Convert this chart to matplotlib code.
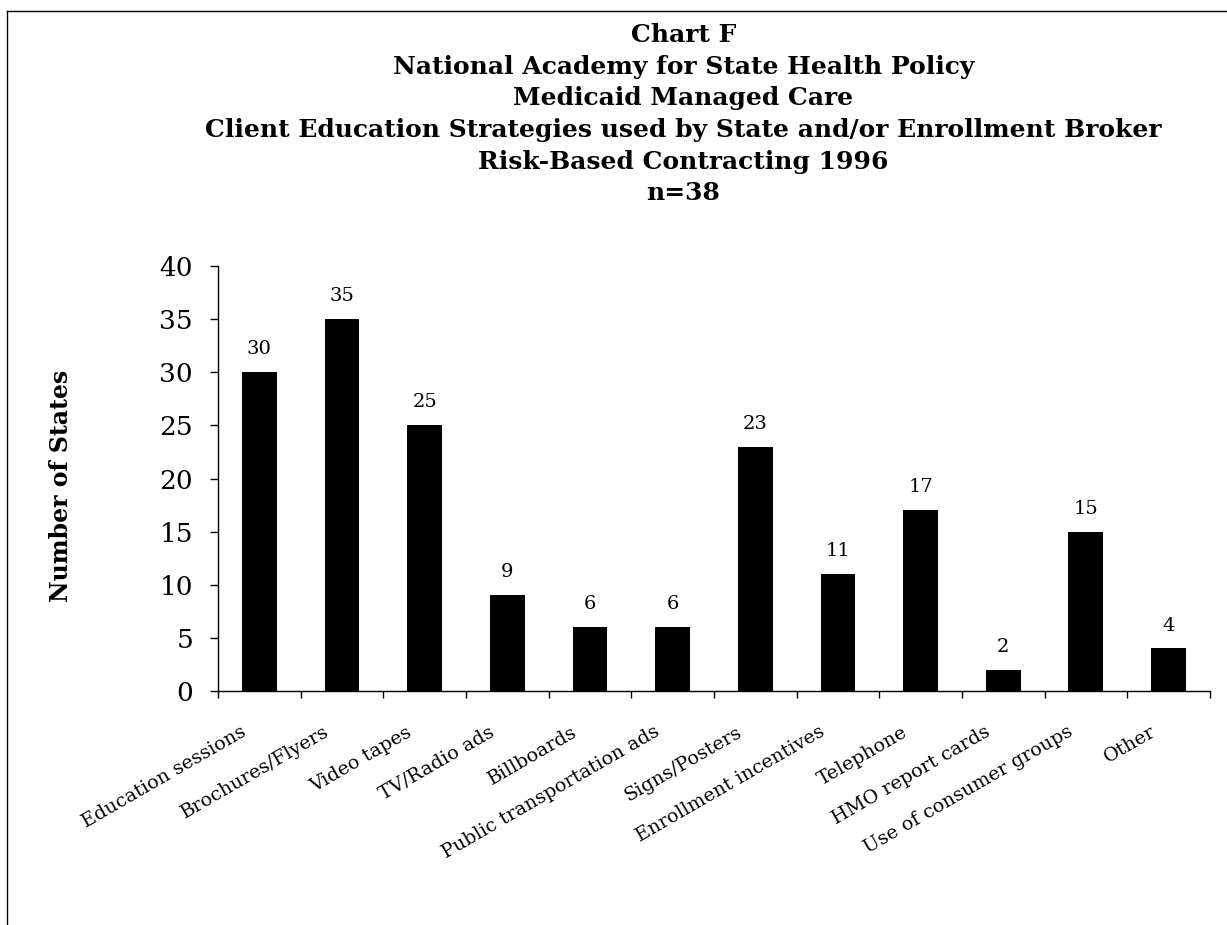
import numpy as np
import matplotlib.pyplot as plt
from matplotlib.lines import Line2D
from matplotlib.transforms import ScaledTranslation

# стратегии и число штатов
strategies = ["Education sessions", "Brochures/Flyers", "Video tapes", "TV/Radio ads",
              "Billboards", "Public transportation ads", "Signs/Posters",
              "Enrollment incentives", "Telephone", "HMO report cards",
              "Use of consumer groups", "Other"]
states = [30, 35, 25, 9, 6, 6, 23, 11, 17, 2, 15, 4]

title_lines = ["Chart F",
               "National Academy for State Health Policy",
               "Medicaid Managed Care",
               "Client Education Strategies used by State and/or Enrollment Broker",
               "Risk-Based Contracting 1996",
               "n=38"]

plt.rcParams['font.family'] = 'DejaVu Serif'

fig = plt.figure(figsize=(12.27, 9.25), dpi=100)
ax = fig.add_axes([0.1777, 0.253, 0.8083, 0.4594])

x = np.arange(len(strategies))
bars = ax.bar(x, states, width=0.42, color='black')
ax.bar_label(bars, padding=10, fontsize=14)

ax.set_xlim(-0.5, len(strategies) - 0.5)
ax.set_ylim(0, 40)
ax.set_yticks(range(0, 41, 5))
ax.tick_params(axis='y', labelsize=19, length=6, width=1, pad=12, direction='out')

# подписи категорий и засечки между столбцами
ax.set_xticks(x, strategies, rotation=30, ha='right', rotation_mode='anchor', fontsize=13.8)
ax.tick_params(axis='x', which='major', length=0, pad=23)
shift = ScaledTranslation(-19 / 100, 0, fig.dpi_scale_trans)
for lbl in ax.get_xticklabels():
    lbl.set_transform(lbl.get_transform() + shift)
ax.set_xticks(np.arange(-0.5, len(strategies), 1), minor=True)
ax.tick_params(axis='x', which='minor', length=5, width=1, direction='out')

for side in ['top', 'right']:
    ax.spines[side].set_visible(False)
for side in ['left', 'bottom']:
    ax.spines[side].set_linewidth(1)

fig.text(0.05, 0.475, "Number of States", rotation=90, fontsize=17, fontweight='bold',
         ha='center', va='center')

# заголовок построчно
ys = [35, 67, 98, 130, 162, 193]
for line, yp in zip(title_lines, ys):
    fig.text(0.557, 1 - yp / 925, line, fontsize=18, fontweight='bold',
             ha='center', va='center')

# рамка сверху и слева
fig.add_artist(Line2D([7 / 1227, 1], [1 - 11 / 925] * 2, color='black', lw=1))
fig.add_artist(Line2D([7 / 1227] * 2, [0, 1 - 11 / 925], color='black', lw=1))

fig.savefig('out.png', dpi=100)
